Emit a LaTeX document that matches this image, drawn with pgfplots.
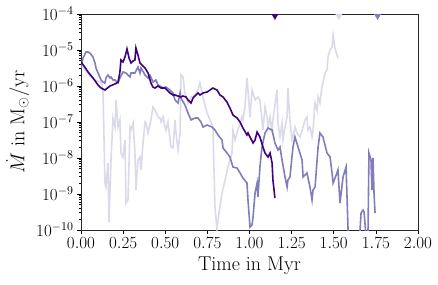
\documentclass[border=0pt]{standalone}
\usepackage{fix-cm}
\usepackage{fontspec}
\usepackage{pgfplots}
\pgfplotsset{compat=1.18}
\definecolor{cdark}{HTML}{3F007D}
\definecolor{cmed}{HTML}{807DBA}
\definecolor{clight}{HTML}{DADAEB}
\begin{document}
\begin{tikzpicture}
\begin{axis}[
  scale only axis, width=337pt, height=216pt,
  xmin=0, xmax=2, ymin=1e-10, ymax=1e-4, ymode=log,
  clip marker paths=true,
  xtick={0,0.25,0.5,0.75,1,1.25,1.5,1.75,2},
  xticklabel style={/pgf/number format/.cd, fixed, fixed zerofill, precision=2},
  ytick={1e-10,1e-9,1e-8,1e-7,1e-6,1e-5,1e-4},
  tick align=outside, xtick pos=bottom, ytick pos=left,
  major tick length=4pt, minor tick length=2pt,
  every tick/.style={black, line width=0.7pt},
  axis line style={line width=0.8pt, black!85},
  tick label style={font=\fontsize{17}{17}\selectfont},
  label style={font=\fontsize{20}{24}\selectfont},
  xlabel={Time in Myr},
  ylabel={$\dot{M}$ in $\mathrm{M_\odot/yr}$},
  xlabel style={yshift=-1pt},
]
% light series
\addplot[clight, line width=1.6pt] coordinates {
(0,4.08e-6)(0.024,2.78e-6)(0.053,1.90e-6)(0.083,1.47e-6)(0.113,1.29e-6)(0.125,1.07e-6)
(0.131,6.39e-7)(0.142,2.02e-9)(0.148,1.56e-9)(0.160,7.26e-9)(0.166,1.67e-10)(0.178,8.80e-9)
(0.190,1.29e-7)(0.202,7.26e-8)(0.208,4.08e-7)(0.220,7.26e-8)(0.231,1.14e-7)(0.237,1.38e-8)
(0.249,1.07e-8)(0.261,3.16e-8)(0.267,5.62e-10)(0.279,6.81e-10)(0.291,7.26e-8)(0.297,5.99e-8)
(0.309,9.38e-8)(0.320,1.38e-8)(0.326,1.29e-9)(0.338,8.80e-9)(0.350,1.07e-8)(0.356,4.64e-9)
(0.368,2.61e-8)(0.380,1.0e-7)(0.386,9.38e-8)(0.398,4.95e-8)(0.415,1.14e-7)(0.427,2.61e-7)
(0.439,2.15e-7)(0.457,1.38e-7)(0.469,1.29e-7)(0.475,1.0e-7)(0.487,1.38e-7)(0.499,7.26e-8)
(0.504,5.99e-8)(0.516,1.0e-7)(0.534,2.02e-8)(0.546,1.90e-8)(0.558,1.14e-7)(0.564,4.95e-8)
(0.576,1.67e-8)(0.588,4.95e-8)(0.593,2.02e-6)(0.605,1.78e-6)(0.617,6.39e-7)(0.635,3.37e-7)
(0.653,4.95e-7)(0.677,5.62e-7)(0.694,7.74e-7)(0.706,1.21e-6)(0.724,4.95e-7)(0.748,1.78e-7)
(0.766,1.14e-7)(0.783,7.26e-8)(0.795,4.36e-10)(0.807,1.07e-10)(0.813,1.90e-10)(0.837,1.07e-9)
(0.855,2.45e-9)(0.872,5.62e-9)(0.896,1.38e-8)(0.902,5.99e-8)(0.914,3.16e-8)(0.926,4.95e-8)
(0.944,9.38e-8)(0.955,1.38e-7)(0.961,1.14e-7)(0.973,2.61e-7)(0.985,1.67e-6)(0.991,7.74e-7)
(1.003,1.38e-7)(1.015,7.74e-7)(1.033,4.08e-7)(1.050,4.95e-7)(1.062,4.08e-7)(1.080,5.99e-8)
(1.092,2.61e-7)(1.104,1.38e-7)(1.110,7.26e-8)(1.122,1.38e-7)(1.134,4.95e-8)(1.139,1.14e-7)
(1.163,7.74e-7)(1.169,9.38e-8)(1.181,3.83e-8)(1.193,9.38e-8)(1.199,3.16e-8)(1.211,7.26e-8)
(1.223,1.38e-7)(1.228,8.80e-7)(1.240,1.14e-7)(1.252,3.16e-8)(1.258,3.83e-8)(1.270,7.26e-8)
(1.282,4.95e-8)(1.300,3.83e-8)(1.318,7.26e-8)(1.329,1.14e-7)(1.341,1.38e-7)(1.347,5.99e-8)
(1.359,7.26e-8)(1.371,3.83e-8)(1.377,5.99e-8)(1.389,3.37e-7)(1.401,2.15e-7)(1.407,4.95e-7)
(1.418,3.37e-7)(1.430,9.38e-7)(1.436,1.21e-6)(1.448,2.30e-6)(1.460,2.78e-6)(1.466,6.39e-6)
(1.478,1.0e-5)(1.490,1.21e-5)(1.496,2.61e-5)(1.507,1.14e-5)(1.519,7.26e-6)(1.525,5.99e-6)
};
% medium series
\addplot[cmed, line width=1.6pt] coordinates {
(0,3.16e-6)(0.012,5.99e-6)(0.030,8.80e-6)(0.042,8.80e-6)(0.053,8.25e-6)(0.071,6.39e-6)
(0.083,4.36e-6)(0.089,3.16e-6)(0.101,2.30e-6)(0.119,1.47e-6)(0.131,1.29e-6)(0.142,1.21e-6)
(0.148,1.67e-6)(0.160,2.02e-6)(0.172,1.67e-6)(0.178,1.78e-6)(0.190,1.47e-6)(0.202,1.47e-6)
(0.220,1.21e-6)(0.231,1.67e-6)(0.249,2.45e-6)(0.267,2.30e-6)(0.279,2.02e-6)(0.291,1.78e-6)
(0.297,2.30e-6)(0.320,2.30e-6)(0.338,3.37e-6)(0.350,2.30e-6)(0.356,3.16e-6)(0.380,2.02e-6)
(0.398,1.67e-6)(0.409,2.02e-6)(0.427,1.29e-6)(0.445,1.47e-6)(0.457,1.07e-6)(0.487,8.80e-7)
(0.504,9.38e-7)(0.528,7.74e-7)(0.546,6.39e-7)(0.558,4.08e-7)(0.576,3.37e-7)(0.588,6.39e-7)
(0.593,4.64e-7)(0.617,2.97e-7)(0.635,1.78e-7)(0.653,1.14e-7)(0.677,1.29e-7)(0.694,1.29e-7)
(0.712,1.0e-7)(0.724,7.26e-8)(0.748,8.25e-8)(0.777,7.26e-8)(0.795,5.99e-8)(0.813,4.36e-8)
(0.837,3.16e-8)(0.843,1.90e-8)(0.866,1.38e-8)(0.884,1.07e-8)(0.902,5.62e-9)(0.926,5.27e-9)
(0.944,3.83e-9)(0.961,2.78e-9)(0.985,2.02e-9)(0.991,6.81e-10)(1.003,1.21e-10)(1.015,1.38e-10)
(1.021,2.30e-10)(1.033,1.07e-9)(1.045,2.02e-9)(1.050,8.25e-10)(1.062,5.62e-9)(1.074,2.02e-8)
(1.092,4.95e-8)(1.110,6.81e-8)(1.134,5.99e-8)(1.151,2.61e-8)(1.169,1.67e-8)(1.181,2.02e-8)
(1.193,8.80e-9)(1.211,2.97e-9)(1.223,1.56e-9)(1.228,2.45e-9)(1.240,2.97e-9)(1.258,2.02e-8)
(1.270,3.83e-8)(1.288,2.02e-8)(1.312,8.80e-9)(1.318,2.97e-9)(1.341,3.83e-9)(1.359,1.56e-9)
(1.371,6.81e-10)(1.377,1.29e-9)(1.389,1.56e-9)(1.407,2.02e-8)(1.418,4.95e-8)(1.436,3.83e-8)
(1.460,1.38e-8)(1.478,1.07e-8)(1.490,3.83e-9)(1.496,2.02e-9)(1.519,3.83e-9)(1.525,4.64e-9)
(1.537,5.62e-10)(1.555,2.97e-9)(1.573,5.62e-9)(1.585,1.0e-10)(1.596,3e-11)(1.644,3e-11)
(1.656,1.0e-10)(1.662,2.97e-10)(1.674,3.59e-10)(1.680,3.16e-10)(1.691,7e-11)(1.703,7e-11)
(1.709,1.38e-8)(1.721,8.80e-9)(1.727,1.29e-9)(1.733,1.0e-8)(1.739,1.07e-9)(1.745,2.97e-10)
};
% dark series
\addplot[cdark, line width=1.6pt] coordinates {
(0,4.64e-6)(0.018,3.59e-6)(0.042,2.45e-6)(0.071,1.67e-6)(0.101,1.07e-6)(0.119,8.80e-7)
(0.142,7.74e-7)(0.172,1.0e-6)(0.202,1.14e-6)(0.220,1.29e-6)(0.231,2.45e-6)(0.237,5.27e-6)
(0.249,4.64e-6)(0.261,6.39e-6)(0.273,1.07e-5)(0.285,5.99e-6)(0.297,4.36e-6)(0.309,4.95e-6)
(0.320,5.27e-6)(0.326,1.14e-5)(0.338,7.26e-6)(0.350,4.36e-6)(0.368,3.59e-6)(0.380,3.16e-6)
(0.398,2.30e-6)(0.415,1.21e-6)(0.427,9.38e-7)(0.439,8.80e-7)(0.457,1.0e-6)(0.475,8.80e-7)
(0.499,8.80e-7)(0.516,7.26e-7)(0.528,6.39e-7)(0.546,5.62e-7)(0.558,5.62e-7)(0.576,5.27e-7)
(0.593,4.95e-7)(0.605,5.27e-7)(0.623,4.95e-7)(0.635,4.08e-7)(0.653,3.37e-7)(0.665,4.64e-7)
(0.677,5.27e-7)(0.694,6.39e-7)(0.706,5.62e-7)(0.724,6.39e-7)(0.748,6.81e-7)(0.766,7.74e-7)
(0.783,8.80e-7)(0.795,8.25e-7)(0.807,7.74e-7)(0.825,5.62e-7)(0.843,4.95e-7)(0.866,3.59e-7)
(0.884,2.45e-7)(0.902,1.56e-7)(0.926,1.29e-7)(0.944,1.0e-7)(0.961,6.81e-8)(0.985,4.36e-8)
(0.991,4.95e-8)(1.003,3.83e-8)(1.021,2.61e-8)(1.033,3.16e-8)(1.045,5.27e-8)(1.062,3.83e-8)
(1.080,2.02e-8)(1.092,1.38e-8)(1.110,1.07e-8)(1.122,1.38e-8)(1.134,7.26e-9)(1.139,2.45e-9)
(1.151,7.74e-10)
};
% end markers
\addplot[only marks, mark=triangle*, mark size=5.5pt, mark options={rotate=180, draw=cdark, fill=cdark}] coordinates {(1.151,1e-4)};
\addplot[only marks, mark=triangle*, mark size=5.5pt, mark options={rotate=180, draw=clight, fill=clight}] coordinates {(1.53,1e-4)};
\addplot[only marks, mark=triangle*, mark size=5.5pt, mark options={rotate=180, draw=cmed, fill=cmed}] coordinates {(1.76,1e-4)};
\end{axis}
\pgfresetboundingbox
\path (current axis.south west) ++(-81pt,-54pt) rectangle ++(438pt,284pt);
\end{tikzpicture}
\end{document}
